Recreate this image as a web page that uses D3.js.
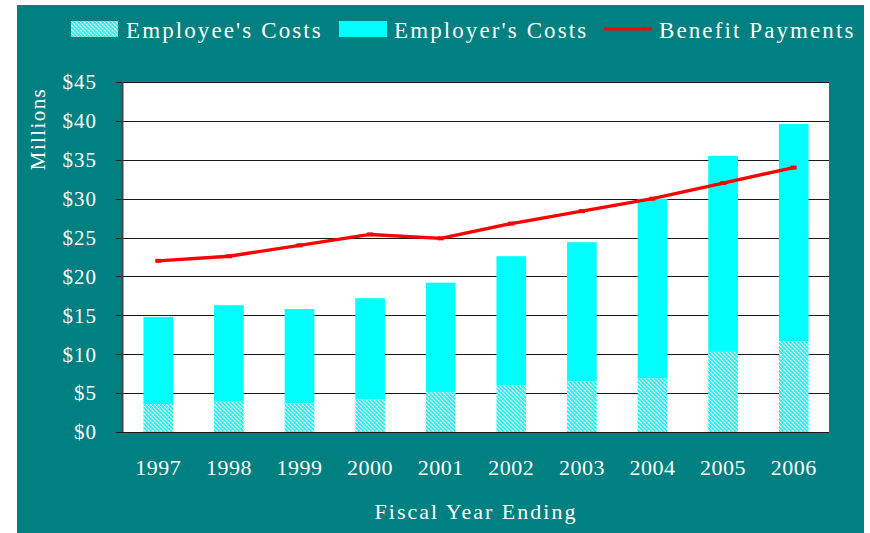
<!DOCTYPE html>
<html><head><meta charset="utf-8">
<script src="https://cdn.jsdelivr.net/npm/d3@7"></script>
<style>html,body{margin:0;padding:0;background:#fff;}svg{display:block;}</style>
</head><body>
<script>
const years = ["1997","1998","1999","2000","2001","2002","2003","2004","2005","2006"];
const employeeCosts = [3.6, 3.9, 3.7, 4.2, 5.1, 6.0, 6.5, 6.9, 10.3, 11.7];
const employerCosts = [11.2, 12.4, 12.1, 13.0, 14.1, 16.6, 17.9, 23.1, 25.2, 27.9];
const benefitPayments = [22.0, 22.6, 24.0, 25.4, 24.9, 26.8, 28.4, 30.0, 32.0, 34.0];
const yTicks = [0, 5, 10, 15, 20, 25, 30, 35, 40, 45];
const seriesNames = ["Employee's Costs", "Employer's Costs", "Benefit Payments"];

const W = 870, H = 533;
const FONT = "'Liberation Serif', 'Times New Roman', serif";
const TEAL = "#008080", CYAN = "#00FFFF", RED = "#FF0000";
const plot = {left: 123, right: 829, top: 82, bottom: 432};

const svg = d3.select("body").append("svg").attr("width", W).attr("height", H);
const defs = svg.append("defs");
const pat = defs.append("pattern").attr("id", "hatch").attr("patternUnits", "userSpaceOnUse")
  .attr("width", 4).attr("height", 4);
pat.append("rect").attr("width", 4).attr("height", 4).attr("fill", "#fff");
pat.append("path").attr("d", "M0,0 L4,4 M-1,3 L1,5 M3,-1 L5,1").attr("stroke", CYAN).attr("stroke-width", 1.9);

svg.append("rect").attr("x", 17).attr("y", 5).attr("width", 847).attr("height", 528).attr("fill", TEAL);
svg.append("rect").attr("x", plot.left).attr("y", plot.top).attr("width", plot.right - plot.left)
  .attr("height", plot.bottom - plot.top).attr("fill", "#fff");

const x = d3.scaleBand().domain(years).range([plot.left, plot.right]).paddingInner(0.58).paddingOuter(0.29);
const y = d3.scaleLinear().domain([0, 45]).range([plot.bottom, plot.top]);

// gridlines
svg.append("g").selectAll("line").data(yTicks).join("line")
  .attr("x1", plot.left - 7).attr("x2", plot.right)
  .attr("y1", d => Math.round(y(d)) + 0.5).attr("y2", d => Math.round(y(d)) + 0.5)
  .attr("stroke", "#1a1a1a").attr("stroke-width", 1.2);
svg.append("line").attr("x1", plot.left - 0.5).attr("x2", plot.left - 0.5)
  .attr("y1", plot.top).attr("y2", plot.bottom).attr("stroke", "#444").attr("stroke-width", 2);

// bars
const stackData = years.map((yr, i) => ({year: yr, emp: employeeCosts[i], er: employerCosts[i]}));
const stack = d3.stack().keys(["emp", "er"])(stackData);
const fills = ["url(#hatch)", CYAN];
svg.append("g").selectAll("g").data(stack).join("g").attr("fill", (d, i) => fills[i])
  .selectAll("rect").data(d => d).join("rect")
  .attr("x", d => x(d.data.year)).attr("width", x.bandwidth())
  .attr("y", d => y(d[1])).attr("height", d => y(d[0]) - y(d[1]));

// line
const line = d3.line().x((d, i) => x(years[i]) + x.bandwidth() / 2).y(d => y(d));
svg.append("path").datum(benefitPayments).attr("d", line).attr("fill", "none")
  .attr("stroke", RED).attr("stroke-width", 3.4).attr("stroke-linejoin", "round");
svg.append("g").selectAll("rect").data(benefitPayments).join("rect")
  .attr("x", (d, i) => x(years[i]) + x.bandwidth() / 2 - 3).attr("y", d => y(d) - 2)
  .attr("width", 6).attr("height", 4).attr("fill", RED);

// y axis labels
svg.append("g").selectAll("text").data(yTicks).join("text")
  .attr("x", 97).attr("y", d => y(d)).attr("dy", "0.35em").attr("text-anchor", "end")
  .attr("fill", "#fff").attr("font-family", FONT).attr("font-size", 21).attr("letter-spacing", 1)
  .text(d => "$" + d);

// x axis labels
svg.append("g").selectAll("text").data(years).join("text")
  .attr("x", d => x(d) + x.bandwidth() / 2).attr("y", 475).attr("text-anchor", "middle")
  .attr("fill", "#fff").attr("font-family", FONT).attr("font-size", 22).attr("letter-spacing", 0.5)
  .text(d => d);

// axis titles
svg.append("text").attr("x", 476).attr("y", 519).attr("text-anchor", "middle")
  .attr("fill", "#fff").attr("font-family", FONT).attr("font-size", 22).attr("letter-spacing", 2)
  .text("Fiscal Year Ending");
svg.append("text").attr("transform", "translate(45,129) rotate(-90)").attr("text-anchor", "middle")
  .attr("fill", "#fff").attr("font-family", FONT).attr("font-size", 21).attr("letter-spacing", 1.4)
  .text("Millions");

// legend
const leg = svg.append("g");
const legItems = [
  {name: seriesNames[0], sx: 71, tx: 126},
  {name: seriesNames[1], sx: 339, tx: 394},
  {name: seriesNames[2], sx: 604, tx: 659}
];
leg.append("rect").attr("x", legItems[0].sx).attr("y", 21).attr("width", 47).attr("height", 16).attr("fill", "url(#hatch)");
leg.append("rect").attr("x", legItems[1].sx).attr("y", 21).attr("width", 48).attr("height", 16).attr("fill", CYAN);
leg.append("line").attr("x1", legItems[2].sx).attr("x2", legItems[2].sx + 48).attr("y1", 29).attr("y2", 29)
  .attr("stroke", RED).attr("stroke-width", 3.2);
leg.selectAll("text").data(legItems).join("text")
  .attr("x", d => d.tx).attr("y", 38).attr("fill", "#fff").attr("font-family", FONT)
  .attr("font-size", 23).attr("letter-spacing", 2.1).text(d => d.name);
</script>
</body></html>
